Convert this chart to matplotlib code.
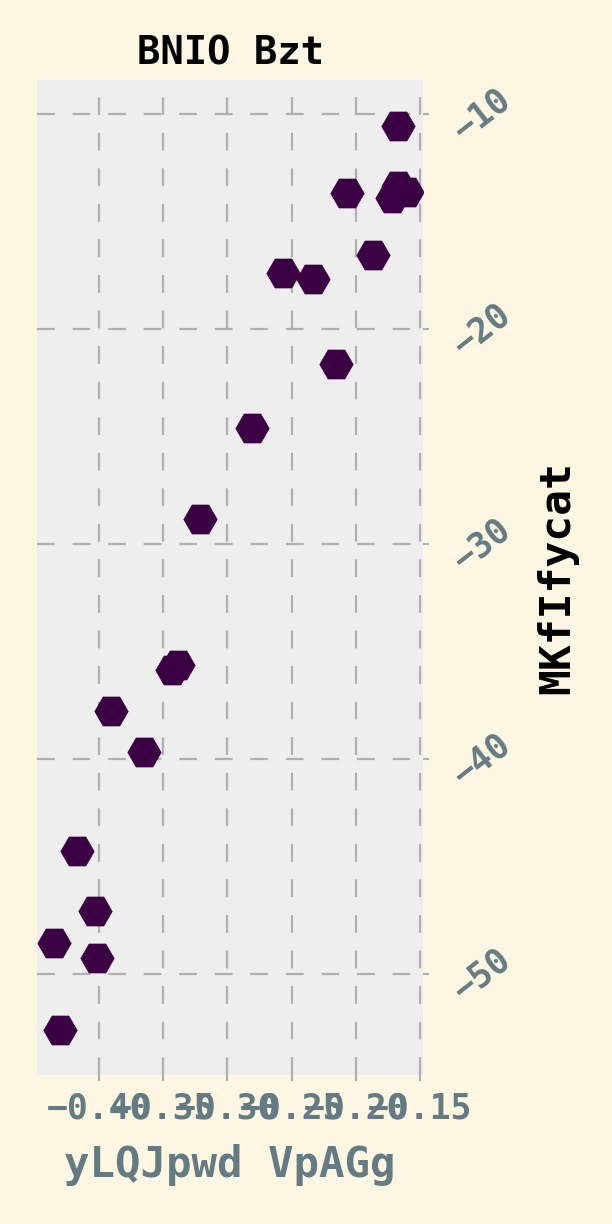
import numpy as np
import matplotlib
matplotlib.use("Agg")
from matplotlib import pyplot as plt

# data
x_vals = [-0.1671, -0.2069, -0.1671, -0.1718, -0.1601, -0.1866, -0.2567, -0.2333,
          -0.2154, -0.2808, -0.3213, -0.3385, -0.3431, -0.3907, -0.3650, -0.4171,
          -0.4031, -0.4350, -0.4016, -0.4304]
y_vals = [-10.56, -13.67, -13.35, -13.91, -13.63, -16.56, -17.40, -17.67,
          -21.63, -24.60, -28.84, -35.63, -35.86, -37.77, -39.67, -44.28,
          -47.07, -48.56, -49.26, -52.60]
x_ticks = [-0.40, -0.35, -0.30, -0.25, -0.20, -0.15]
y_ticks = [-10, -20, -30, -40, -50]

title = "BNIO Bzt"
x_label = "yLQJpwd VpAGg"
y_label = "MKfIfycat"

plt.rcParams['font.family'] = ['DejaVu Sans Mono']
plt.rcParams['font.weight'] = 'bold'

fig = plt.figure(figsize=(6.12, 12.24), dpi=100, facecolor='#fdf6e3')
ax = fig.add_axes([0.0605, 0.1217, 0.6307, 0.8129])
ax.set_facecolor('#eeeeee')

ax.scatter(x_vals, y_vals, s=580, marker='H', color='#3b0043',
           edgecolors='#3b0043', linewidths=0.5, zorder=3)

ax.set_xlim(-0.4483, -0.1477)
ax.set_ylim(-54.7, -8.42)
ax.set_xticks(x_ticks)
ax.set_xticklabels([("%.2f" % v).replace('-', '\u2212') for v in x_ticks])
ax.set_yticks(y_ticks)
ax.set_yticklabels([("%d" % v).replace('-', '\u2212') for v in y_ticks])

ax.grid(True, color='#b0b0b0', linestyle=(0, (8, 8)), linewidth=1.6, zorder=0)
ax.set_axisbelow(True)
for sp in ax.spines.values():
    sp.set_visible(False)

ax.yaxis.tick_right()
ax.tick_params(axis='both', colors='#b0b0b0', labelcolor='#657b83', labelsize=25,
               length=4, width=1.5)
ax.tick_params(axis='x', pad=8)
ax.tick_params(axis='y', pad=13, labelsize=25)
for lab in ax.get_yticklabels():
    lab.set_rotation(38)
    lab.set_ha('left')
    lab.set_va('center')

ax.set_title(title, fontsize=28, fontweight='bold', color='black', pad=11)
ax.set_xlabel(x_label, fontsize=30.5, fontweight='bold', color='#657b83')
ax.xaxis.set_label_coords(0.5, -0.069)
ax.yaxis.set_label_position('right')
ax.set_ylabel(y_label, fontsize=31, fontweight='bold', color='black')
ax.yaxis.set_label_coords(1.293, 0.5)

fig.savefig("out.png", dpi=100, facecolor=fig.get_facecolor())
